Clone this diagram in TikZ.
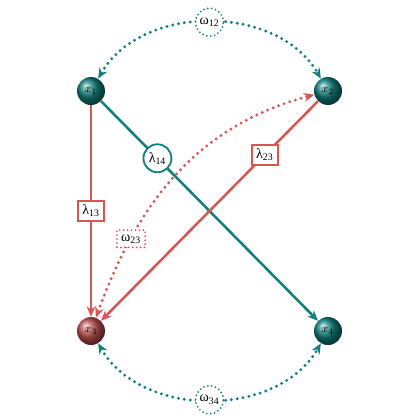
\documentclass[tikz,border=0pt]{standalone}
\usepackage{xcolor}
\usepackage{fontspec}
\usepackage{tikz}
\usetikzlibrary{arrows.meta, positioning}
\newfontfamily\griega{Liberation Serif}
\definecolor{verdeazul}{RGB}{16,128,124}
\definecolor{rojizo}{RGB}{214,86,86}
\definecolor{bolaroja}{RGB}{190,80,80}
\tikzset{
  estado/.style={circle, ball color=verdeazul, minimum size=7mm,
    inner sep=0pt, font=\footnotesize, text=black},
  estador/.style={estado, ball color=bolaroja},
  tasac/.style={circle, draw=verdeazul, fill=white, solid, line width=1.3pt,
    inner sep=0.5pt, minimum size=7mm, font=\griega, text=black},
  tasar/.style={rectangle, draw=rojizo, fill=white, solid, line width=1.3pt,
    inner sep=3pt, font=\griega, text=black},
  tasawc/.style={tasac, line width=1.4pt, line cap=round, dash pattern=on 0pt off 2.8pt},
  tasawr/.style={tasar, line width=1.4pt, line cap=round, dash pattern=on 0pt off 2.8pt},
  flecha/.style={-{Stealth[length=2.6mm, width=2.2mm]}, line width=1.8pt},
  punteada/.style={{Stealth[length=2.6mm, width=2.2mm]}-{Stealth[length=2.6mm, width=2.2mm]},
    line width=2.3pt, line cap=round, dash pattern=on 0pt off 4.2pt}
}

\begin{document}
\begin{tikzpicture}[node distance=6cm and 5.925cm, on grid]
  \useasboundingbox (-2.275,2.275) rectangle (8.225,-8.225);
  \node[estado] (x1) at (0,0) {$x_1$};
  \node[estado, right=of x1] (x2) {$x_2$};
  \node[estador, below=of x1] (x3) {$x_3$};
  \node[estado, below=of x2] (x4) {$x_4$};
  % tasas
  \draw[flecha, rojizo] (x1) -- node[tasar]{λ\textsubscript{13}} (x3);
  \draw[flecha, verdeazul] (x1) -- node[tasac, pos=0.26]{λ\textsubscript{14}} (x4);
  \draw[flecha, rojizo] (x2) -- node[tasar, pos=0.245]{λ\textsubscript{23}} (x3);
  % acoplamientos
  \draw[punteada, rojizo] (x3) to[out=70, in=195]
    node[tasawr, pos=0.25]{ω\textsubscript{23}} (x2);
  \draw[punteada, verdeazul] (x1) to[out=60, in=120]
    node[tasawc]{ω\textsubscript{12}} (x2);
  \draw[punteada, verdeazul] (x3) to[out=-60, in=-120]
    node[tasawc]{ω\textsubscript{34}} (x4);
\end{tikzpicture}
\end{document}
